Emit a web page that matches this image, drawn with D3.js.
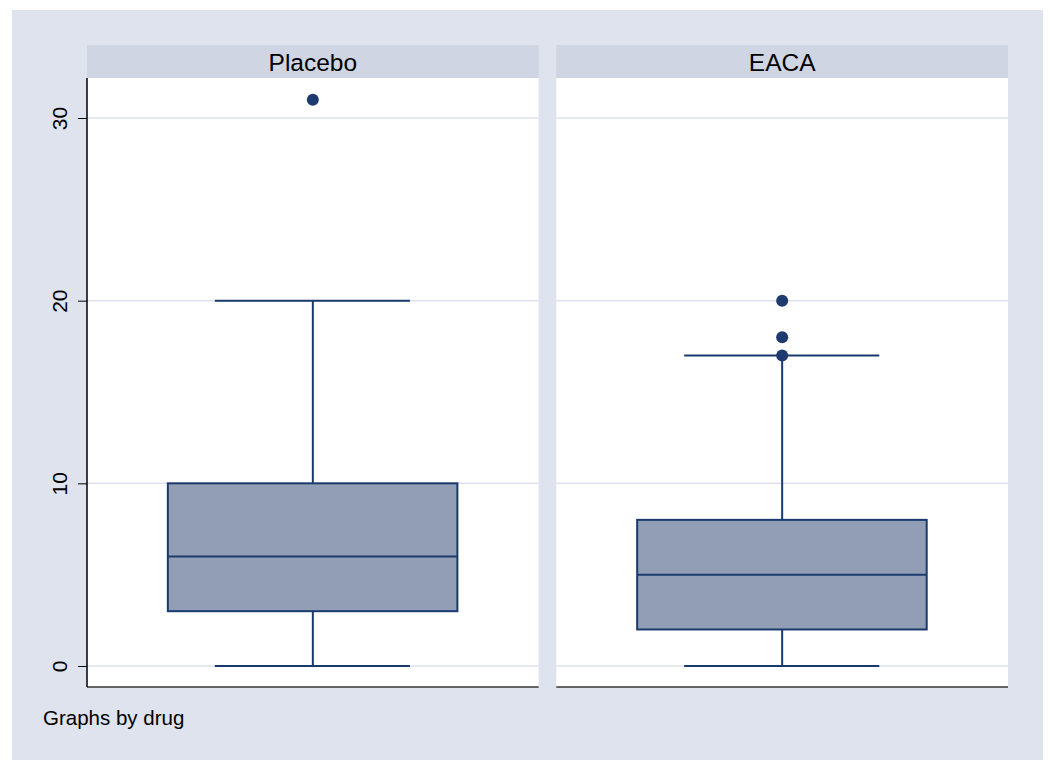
<!DOCTYPE html>
<html><head><meta charset="utf-8">
<script src="https://cdn.jsdelivr.net/npm/d3@7"></script>
<style>body{margin:0;background:#fff}svg{display:block}</style>
</head><body>
<script>
const groups = ["Placebo", "EACA"];
const q1 = [3, 2];
const median = [6, 5];
const q3 = [10, 8];
const whiskerLow = [0, 0];
const whiskerHigh = [20, 17];
const outliers = [[31], [17, 18, 20]];
const yTicks = [0, 10, 20, 30];
const note = "Graphs by drug";

const W = 1050, H = 771;
const svg = d3.select("body").append("svg").attr("width", W).attr("height", H)
  .style("font-family", "Liberation Sans, Arial, sans-serif");
svg.append("rect").attr("x", 12).attr("y", 10).attr("width", 1031).attr("height", 750).attr("fill", "#dfe3ee");

const panelX = d3.scaleBand().domain(groups).range([87, 1008]).paddingInner(17 / 452 * 1.0);
const y = d3.scaleLinear().domain([0, 30]).range([666, 118]);
const plotTop = 78, plotBottom = 687, stripTop = 45;

groups.forEach((g, i) => {
  const x0 = panelX(g), w = panelX.bandwidth();
  const p = svg.append("g");
  p.append("rect").attr("x", x0).attr("y", stripTop).attr("width", w).attr("height", plotTop - stripTop).attr("fill", "#d0d5e3");
  p.append("text").attr("x", x0 + w / 2).attr("y", plotTop - 7).attr("text-anchor", "middle")
    .attr("font-size", 24.5).attr("fill", "#000").text(g);
  p.append("rect").attr("x", x0).attr("y", plotTop).attr("width", w).attr("height", plotBottom - plotTop).attr("fill", "#fff");
  p.selectAll("line.grid").data(yTicks).enter().append("line").attr("class", "grid")
    .attr("x1", x0).attr("x2", x0 + w).attr("y1", d => y(d)).attr("y2", d => y(d))
    .attr("stroke", "#dde2ee").attr("stroke-width", 1.5);
  const bx = d3.scaleLinear().domain([0, 1]).range([x0, x0 + w]);
  const cx = bx(0.5);
  const boxL = bx(0.179), boxR = bx(0.82);
  const capL = bx(0.283), capR = bx(0.715);
  const col = "#1a3a6e";
  p.append("line").attr("x1", cx).attr("x2", cx).attr("y1", y(q3[i])).attr("y2", y(whiskerHigh[i])).attr("stroke", col).attr("stroke-width", 2);
  p.append("line").attr("x1", cx).attr("x2", cx).attr("y1", y(q1[i])).attr("y2", y(whiskerLow[i])).attr("stroke", col).attr("stroke-width", 2);
  p.append("line").attr("x1", capL).attr("x2", capR).attr("y1", y(whiskerHigh[i])).attr("y2", y(whiskerHigh[i])).attr("stroke", col).attr("stroke-width", 2);
  p.append("line").attr("x1", capL).attr("x2", capR).attr("y1", y(whiskerLow[i])).attr("y2", y(whiskerLow[i])).attr("stroke", col).attr("stroke-width", 2);
  p.append("rect").attr("x", boxL).attr("y", y(q3[i])).attr("width", boxR - boxL).attr("height", y(q1[i]) - y(q3[i]))
    .attr("fill", "#929eb5").attr("stroke", col).attr("stroke-width", 2);
  p.append("line").attr("x1", boxL).attr("x2", boxR).attr("y1", y(median[i])).attr("y2", y(median[i])).attr("stroke", col).attr("stroke-width", 2);
  p.selectAll("circle").data(outliers[i]).enter().append("circle")
    .attr("cx", cx).attr("cy", d => y(d)).attr("r", 6).attr("fill", "#1f3a6e");
  p.append("line").attr("x1", x0).attr("x2", x0 + w).attr("y1", plotBottom).attr("y2", plotBottom).attr("stroke", "#333").attr("stroke-width", 1.5);
});

const yAxis = svg.append("g").attr("transform", `translate(${panelX(groups[0])},0)`)
  .call(d3.axisLeft(y).tickValues(yTicks).tickSize(9).tickPadding(8).tickFormat(d3.format("d")));
yAxis.select(".domain").attr("d", `M0,${plotTop}V${plotBottom}`).attr("stroke", "#000").attr("stroke-width", 1.5);
yAxis.selectAll(".tick line").attr("stroke", "#000");
yAxis.selectAll(".tick text").attr("font-size", 21).attr("fill", "#000")
  .attr("font-family", "Liberation Sans, Arial, sans-serif")
  .attr("text-anchor", "middle").attr("x", 0).attr("y", 0).attr("dy", 0)
  .attr("transform", "translate(-20,0) rotate(-90)");

svg.append("text").attr("x", 43).attr("y", 725).attr("font-size", 20.5).attr("fill", "#000").text(note);
</script>
</body></html>
